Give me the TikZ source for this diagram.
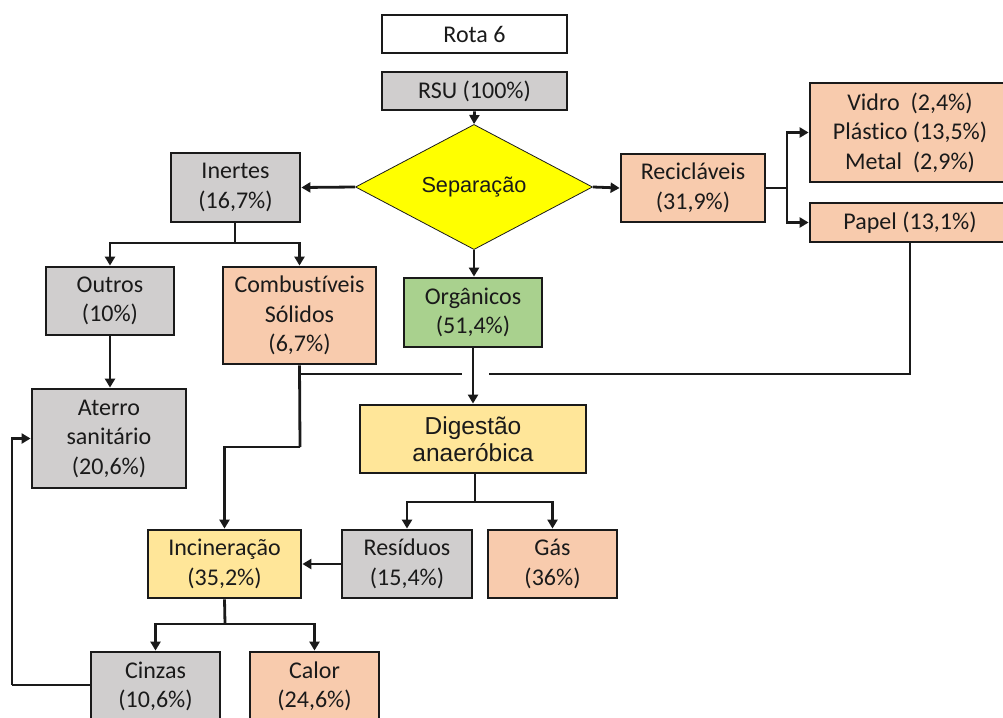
\documentclass[tikz,border=0pt]{standalone}
\usepackage{fontspec}
\setmainfont[Ligatures={NoCommon,NoRare}]{Carlito}
\newfontfamily\arialfont{Liberation Sans}
\usetikzlibrary{arrows.meta,shapes.geometric}
\definecolor{boxgray}{HTML}{D0CECE}
\definecolor{boxorange}{HTML}{F8CBAD}
\definecolor{boxgreen}{HTML}{A9D18E}
\definecolor{boxyellow}{HTML}{FFE699}
\definecolor{diamondyellow}{HTML}{FFFF00}
\definecolor{inkline}{HTML}{1A1A1A}
\tikzset{
  box/.style={draw=inkline, line width=2.8pt, rectangle, inner sep=0pt,
    align=center, text=inkline, font=\fontsize{24}{29.5}\selectfont},
  graybox/.style={box, fill=boxgray},
  orangebox/.style={box, fill=boxorange},
  greenbox/.style={box, fill=boxgreen},
  yellowbox/.style={box, fill=boxyellow},
  sz/.style 2 args={minimum width=#1pt, minimum height=#2pt},
  flow/.style={draw=inkline, line width=2.8pt, -{Triangle[length=9pt,width=10pt]}},
  plain/.style={draw=inkline, line width=2.8pt},
}
\begin{document}
\begin{tikzpicture}[x=1pt,y=-1pt]
\useasboundingbox (0,0) rectangle (1003,717);

% boxes
\node[box, fill=white, sz={185}{38}] (rota) at (474.5,34) {Rota 6};
\node[graybox, sz={185}{38}] (rsu) at (474.5,91) {RSU (100\%)};
\node[diamond, draw=inkline, line width=0.8pt, fill=diamondyellow, inner sep=0pt,
      minimum width=237pt, minimum height=89pt, text=inkline,
      font=\fontsize{21.7}{26}\selectfont\arialfont] (sep) at (474,187) {Separação};
\node[graybox, sz={129}{69}] (inertes) at (235.5,187.5) {Inertes\\(16,7\%)};
\node[orangebox, sz={144}{68}] (recic) at (693,188) {Recicláveis\\(31,9\%)};
\node[orangebox, sz={200}{99}] (vidro) at (910,132.5) {Vidro\ \ (2,4\%)\\Plástico (13,5\%)\\Metal\ \ (2,9\%)};
\node[orangebox, sz={200}{39}] (papel) at (910,222.5) {Papel (13,1\%)};
\node[graybox, sz={128}{68}] (outros) at (110,301) {Outros\\(10\%)};
\node[orangebox, sz={153}{97}] (comb) at (299.5,315.5) {Combustíveis\\Sólidos\\(6,7\%)};
\node[greenbox, sz={138}{69}] (org) at (473,312.5) {Orgânicos\\(51,4\%)};
\node[graybox, sz={154}{99}] (aterro) at (109,438.5) {Aterro\\sanitário\\(20,6\%)};
\node[yellowbox, sz={226}{68}, font=\fontsize{24.5}{27}\selectfont\arialfont] (dig) at (473,439) {Digestão\\anaeróbica};
\node[yellowbox, sz={153}{68}] (incin) at (224.5,564) {Incineração\\(35,2\%)};
\node[graybox, sz={130}{68}] (resid) at (407,564) {Resíduos\\(15,4\%)};
\node[orangebox, sz={129}{68}] (gas) at (552.5,564) {Gás\\(36\%)};
\node[graybox, sz={129}{69}] (cinzas) at (155.5,686.5) {Cinzas\\(10,6\%)};
\node[orangebox, sz={129}{69}] (calor) at (314.5,686.5) {Calor\\(24,6\%)};

% junction points
\coordinate (recsplit) at (787,188);
\coordinate (inesplit) at (235,243);
\coordinate (combbend) at (300,447);
\coordinate (combcross) at (462,374);
\coordinate (papelend) at (489,374);
\coordinate (digsplit) at (475,502);
\coordinate (incsplit) at (225,624);
\coordinate (ashcorner) at (12,685);

% connectors
\draw[flow] (rsu.south) -- (sep.north);
\draw[flow] (sep.west) -- (inertes.east);
\draw[flow] (sep.east) -- (recic.west);
\draw[flow] (sep.south) -- (sep.south |- org.north);
\draw[plain] (recic.east) -- (recsplit);
\draw[flow] (recsplit) |- (vidro.west);
\draw[flow] (recsplit) |- (papel.west);
\draw[plain] (inertes.south -| inesplit) -- (inesplit);
\draw[flow] (inesplit) -| (outros.north);
\draw[flow] (inesplit) -| (comb.north);
\draw[flow] (outros.south) -- (outros.south |- aterro.north);
\draw[flow] (org.south) -- (dig.north);
\draw[plain] (comb.south) -- (combbend);
\draw[flow] (combbend) -| (incin.north);
\draw[plain] (comb.south |- combcross) -- (combcross);
\draw[plain] (papel.south) |- (papelend);
\draw[plain] (dig.south -| digsplit) -- (digsplit);
\draw[flow] (digsplit) -| (resid.north);
\draw[flow] (digsplit) -| (gas.north);
\draw[flow] (resid.west) -- (incin.east |- resid.west);
\draw[plain] (incin.south) -- (incsplit);
\draw[flow] (incsplit) -| (cinzas.north);
\draw[flow] (incsplit) -| (calor.north);
\draw[plain] (cinzas.west |- ashcorner) -- (ashcorner);
\draw[flow] (ashcorner) |- (aterro.west);
\end{tikzpicture}
\end{document}
